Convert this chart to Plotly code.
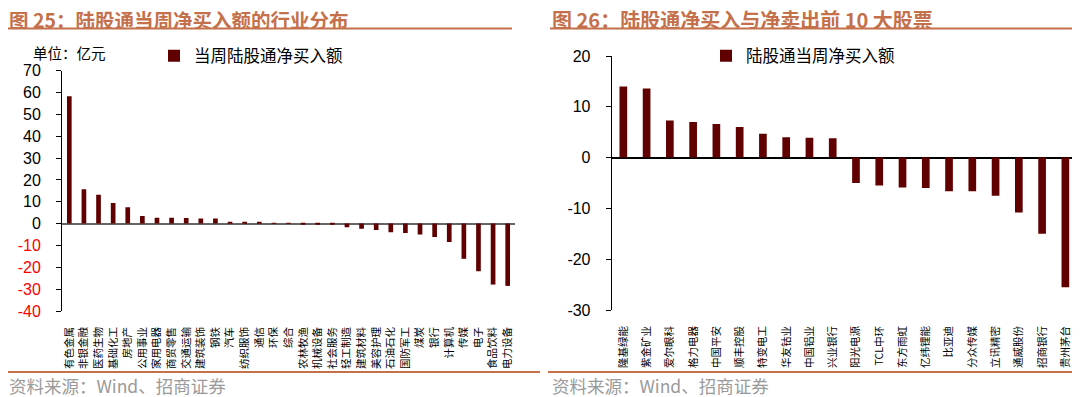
import plotly.graph_objects as go

W, H = 1080, 397
OFF = 8  # the page's default body margin shifts the figure by this many pixels

# ---------------- data ----------------
ind_names = ["有色金属", "非银金融", "医药生物", "基础化工", "房地产", "公用事业", "家用电器",
             "商贸零售", "交通运输", "建筑装饰", "钢铁", "汽车", "纺织服饰", "通信", "环保",
             "综合", "农林牧渔", "机械设备", "社会服务", "轻工制造", "建筑材料", "美容护理",
             "石油石化", "国防军工", "煤炭", "银行", "计算机", "传媒", "电子", "食品饮料", "电力设备"]
ind_values = [58.3, 15.7, 13.2, 9.4, 7.5, 3.5, 2.7, 2.7, 2.6, 2.4, 2.4, 0.9, 0.45, 0.45, 0.15,
              0.05, -0.05, -0.1, -0.3, -1.7, -2.4, -2.9, -4.0, -4.3, -5.0, -6.1, -8.4, -16.1,
              -21.8, -27.9, -28.5]

stock_names = ["隆基绿能", "紫金矿业", "爱尔眼科", "格力电器", "中国平安", "顺丰控股", "特变电工",
               "华友钴业", "中国铝业", "兴业银行", "阳光电源", "TCL中环", "东方雨虹", "亿纬锂能",
               "比亚迪", "分众传媒", "立讯精密", "通威股份", "招商银行", "贵州茅台"]
stock_values = [14.0, 13.6, 7.3, 7.0, 6.6, 6.0, 4.7, 4.0, 3.9, 3.8, -5.0, -5.5, -5.9, -6.0,
                -6.6, -6.6, -7.5, -10.8, -15.0, -25.5]

left_ytick_vals = [-40, -30, -20, -10, 0, 10, 20, 30, 40, 50, 60, 70]
left_ytick_text = ['<span style="color:#FF0000">-40</span>', '<span style="color:#FF0000">-30</span>',
                   '<span style="color:#FF0000">-20</span>', '<span style="color:#FF0000">-10</span>',
                   "0", "10", "20", "30", "40", "50", "60", "70"]
right_ytick_vals = [-30, -20, -10, 0, 10, 20]
right_ytick_text = ["-30", "-20", "-10", "0", "10", "20"]

left_title = "<b>图 25：陆股通当周净买入额的行业分布</b>"
right_title = "<b>图 26：陆股通净买入与净卖出前 10 大股票</b>"
left_legend_name = "当周陆股通净买入额"
right_legend_name = "陆股通当周净买入额"
unit_text = "单位：亿元"
source_text = "资料来源：Wind、招商证券"

# ---------------- styles ----------------
BAR = "#600000"
ACCENT = "#C4704B"
CJK = "Noto Sans CJK SC"
NUM = "Liberation Sans, Arial, sans-serif"


def px_x(p):
    return (p - OFF) / W


def px_y(p):
    return 1 - (p - OFF) / H


fig = go.Figure()
fig.add_trace(go.Bar(x=ind_names, y=ind_values, name=left_legend_name, marker_color=BAR,
                     width=0.32, xaxis="x", yaxis="y", legend="legend"))
fig.add_trace(go.Bar(x=stock_names, y=stock_values, name=right_legend_name, marker_color=BAR,
                     width=0.33, xaxis="x2", yaxis="y2", legend="legend2"))

common_x = dict(type="category", tickangle=-90, showline=False, ticks="", showgrid=False,
                zeroline=False, automargin=False,
                tickfont=dict(family=CJK, size=10.5, color="#000000"),
                ticklabelstandoff=13)
common_y = dict(showline=True, linecolor="#000000", linewidth=1, ticks="outside", ticklen=5,
                tickcolor="#000000", tickwidth=1, showgrid=False, zeroline=True, automargin=False,
                zerolinewidth=1.5, tickfont=dict(family=NUM, size=16, color="#000000"),
                ticklabelstandoff=12, tickmode="array")

fig.update_layout(
    template="none",
    width=W, height=H,
    margin=dict(l=0, r=0, t=0, b=0, pad=0, autoexpand=False),
    paper_bgcolor="#FFFFFF", plot_bgcolor="#FFFFFF",
    showlegend=True,
    xaxis=dict(common_x, domain=[px_x(62), px_x(515)], anchor="y"),
    yaxis=dict(common_y, domain=[px_y(311), px_y(70.7)], range=[-40, 70],
               tickvals=left_ytick_vals, ticktext=left_ytick_text,
               zerolinecolor="#666666", anchor="x"),
    xaxis2=dict(common_x, domain=[px_x(611.7), px_x(1077)], anchor="y2"),
    yaxis2=dict(common_y, domain=[px_y(310), px_y(56)], range=[-30, 20],
                tickvals=right_ytick_vals, ticktext=right_ytick_text,
                zerolinecolor="#000000", anchor="x2"),
    legend=dict(x=px_x(195 - 41), y=px_y(56), xanchor="left", yanchor="middle",
                bgcolor="rgba(0,0,0,0)", borderwidth=0,
                font=dict(family=CJK, size=16.5, color="#000000")),
    legend2=dict(x=px_x(745 - 39), y=px_y(56), xanchor="left", yanchor="middle",
                 bgcolor="rgba(0,0,0,0)", borderwidth=0,
                 font=dict(family=CJK, size=16.5, color="#000000")),
)

annotations = [
    dict(text=left_title, x=0, y=1, xanchor="left", yanchor="top", height=20, valign="middle",
         font=dict(family=CJK, size=19.5, color=ACCENT)),
    dict(text=right_title, x=px_x(551), y=1, xanchor="left", yanchor="top", height=20,
         valign="middle", font=dict(family=CJK, size=20, color=ACCENT)),
    dict(text=unit_text, x=px_x(32), y=px_y(52), xanchor="left", yanchor="middle",
         font=dict(family=CJK, size=14.5, color="#000000")),
    dict(text=source_text, x=0, y=px_y(385), xanchor="left", yanchor="middle",
         font=dict(family=CJK, size=17.5, color="#9A9A9A")),
    dict(text=source_text, x=px_x(551), y=px_y(385), xanchor="left", yanchor="middle",
         font=dict(family=CJK, size=17.5, color="#9A9A9A")),
]
for a in annotations:
    a.update(xref="paper", yref="paper", showarrow=False, borderpad=0)
fig.update_layout(annotations=annotations)

shapes = [
    dict(x0=px_x(0), x1=px_x(512), y0=px_y(28.5), y1=px_y(28.5)),
    dict(x0=px_x(550), x1=px_x(1080), y0=px_y(28.5), y1=px_y(28.5)),
    dict(x0=px_x(0), x1=px_x(540), y0=px_y(372), y1=px_y(372)),
    dict(x0=px_x(548), x1=px_x(1080), y0=px_y(372), y1=px_y(372)),
]
for s in shapes:
    s.update(type="line", xref="paper", yref="paper", line=dict(color=ACCENT, width=2))
fig.update_layout(shapes=shapes)

fig.write_html("out.html")
